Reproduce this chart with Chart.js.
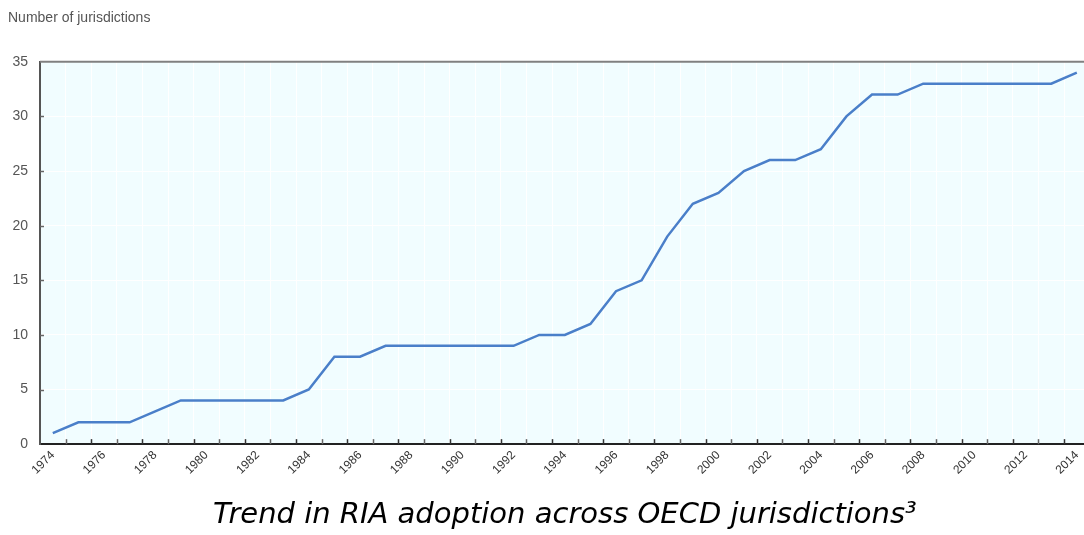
<!DOCTYPE html>
<html>
<head>
<meta charset="utf-8">
<script src="https://cdn.jsdelivr.net/npm/chart.js@4"></script>
<style>
  html, body { margin: 0; padding: 0; background: #fff; overflow: hidden; }
  #wrap { position: relative; width: 1091px; height: 535px; }
</style>
</head>
<body>
<div id="wrap"><canvas id="riaChart"></canvas></div>
<script>
const years = [1974, 1975, 1976, 1977, 1978, 1979, 1980, 1981, 1982, 1983, 1984, 1985, 1986, 1987,
  1988, 1989, 1990, 1991, 1992, 1993, 1994, 1995, 1996, 1997, 1998, 1999, 2000, 2001, 2002, 2003,
  2004, 2005, 2006, 2007, 2008, 2009, 2010, 2011, 2012, 2013, 2014];
const jurisdictions = [1, 2, 2, 2, 3, 4, 4, 4, 4, 4, 5, 8, 8, 9,
  9, 9, 9, 9, 9, 10, 10, 11, 14, 15, 19, 22, 23, 25, 26, 26,
  27, 30, 32, 32, 33, 33, 33, 33, 33, 33, 34];
const yTicks = [0, 5, 10, 15, 20, 25, 30, 35];
const yAxisTitle = 'Number of jurisdictions';
const caption = 'Trend in RIA adoption across OECD jurisdictions\u00B3';

const labelFont = "'Liberation Sans Narrow', 'Liberation Sans', 'Noto Sans', sans-serif";

// plot background, top border and the small inward tick marks
const framePlugin = {
  id: 'frame',
  beforeDraw(chart) {
    const { ctx, chartArea: a } = chart;
    ctx.save();
    ctx.fillStyle = '#f1fdff';
    ctx.fillRect(a.left, a.top, a.right - a.left, a.bottom - a.top);
    ctx.restore();
  },
  afterDraw(chart) {
    const { ctx, chartArea: a, scales } = chart;
    ctx.save();
    ctx.strokeStyle = '#808080';
    ctx.lineWidth = 2;
    ctx.beginPath();
    ctx.moveTo(a.left, a.top);
    ctx.lineTo(a.right, a.top);
    ctx.stroke();

    ctx.lineWidth = 1.5;
    for (let i = 1; i < years.length; i++) {
      const x = Math.round(scales.x.getPixelForValue(i - 0.5)) + 0.5;
      ctx.strokeStyle = i % 2 === 0 ? '#333' : '#666';
      ctx.beginPath();
      ctx.moveTo(x, a.bottom);
      ctx.lineTo(x, a.bottom - 5);
      ctx.stroke();
    }
    ctx.strokeStyle = '#666';
    yTicks.slice(1, -1).forEach(v => {
      const y = Math.round(scales.y.getPixelForValue(v)) + 0.5;
      ctx.beginPath();
      ctx.moveTo(a.left, y);
      ctx.lineTo(a.left + 4, y);
      ctx.stroke();
    });
    ctx.restore();
  }
};

new Chart(document.getElementById('riaChart'), {
  type: 'line',
  data: {
    labels: years.map(String),
    datasets: [{
      label: 'Number of jurisdictions',
      data: jurisdictions,
      borderColor: '#4a7fc9',
      borderWidth: 2.5,
      pointRadius: 0,
      tension: 0,
      fill: false
    }]
  },
  options: {
    responsive: true,
    maintainAspectRatio: false,
    animation: false,
    layout: { padding: { left: 8, right: 0, top: 0, bottom: 0 } },
    plugins: {
      legend: { display: false },
      tooltip: { enabled: false },
      title: {
        display: true,
        text: yAxisTitle,
        align: 'start',
        color: '#555',
        font: { family: labelFont, size: 14, weight: 'normal' },
        padding: { top: 10, bottom: 35 }
      }
    },
    scales: {
      x: {
        offset: true,
        grid: { offset: true, color: '#ffffff', lineWidth: 1, drawTicks: false },
        border: { color: '#222', width: 2 },
        ticks: {
          autoSkip: false,
          maxRotation: 45,
          minRotation: 45,
          padding: 4,
          color: '#333',
          font: { family: labelFont, size: 12 },
          callback: (v, i) => (i % 2 === 0 ? years[i] : '')
        },
        title: {
          display: true,
          text: caption,
          color: '#000',
          font: { family: "'DejaVu Sans', sans-serif", size: 29, style: 'italic' },
          padding: { top: 17, bottom: 2 }
        }
      },
      y: {
        min: 0,
        max: 35,
        afterFit: scale => { scale.width = 32; },
        grid: { color: '#ffffff', lineWidth: 1, drawTicks: false },
        border: { color: '#555', width: 2 },
        ticks: {
          stepSize: 5,
          padding: 12,
          color: '#555',
          font: { family: labelFont, size: 14 }
        }
      }
    }
  },
  plugins: [framePlugin]
});
</script>
</body>
</html>
